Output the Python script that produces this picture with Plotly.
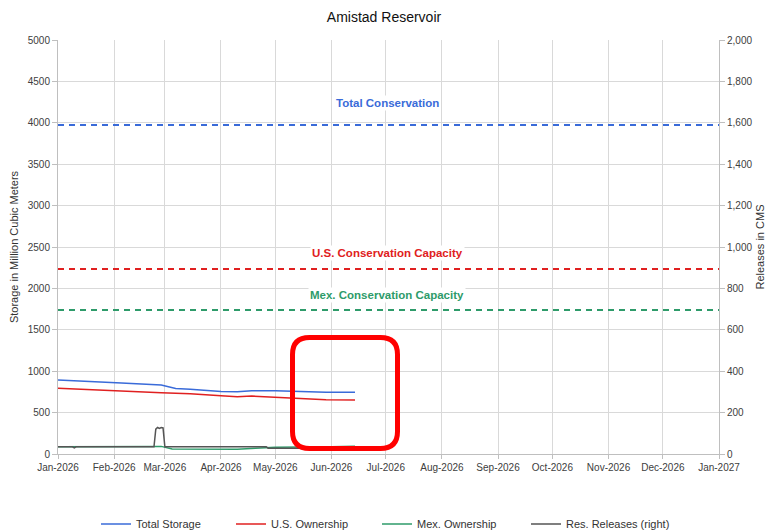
import plotly.graph_objects as go

# ---------------- data ----------------
storage_dates = ["2026-01-01", "2026-01-18", "2026-02-05", "2026-02-27", "2026-03-07",
                 "2026-03-15", "2026-04-01", "2026-04-10", "2026-04-18", "2026-05-01",
                 "2026-05-21", "2026-05-29", "2026-06-14"]
total_storage = [894, 873, 858, 833, 790, 782, 755, 752, 765, 765, 748, 746, 745]
us_ownership = [793, 775, 760, 740, 735, 728, 704, 690, 700, 688, 668, 655, 652]

mex_dates = ["2026-01-01", "2026-02-27", "2026-03-05", "2026-04-10", "2026-04-20",
             "2026-05-01", "2026-06-01", "2026-06-14"]
mex_ownership = [88, 92, 60, 58, 68, 82, 88, 95]

release_dates = ["2026-01-01", "2026-01-09", "2026-01-10", "2026-01-11", "2026-02-23",
                 "2026-02-24", "2026-02-25", "2026-02-26", "2026-02-27", "2026-02-28",
                 "2026-03-01", "2026-04-26", "2026-04-27", "2026-05-20"]
releases = [35, 35, 30, 35, 35, 120, 128, 124, 128, 126, 35, 35, 28, 28]

x_range = ["2026-01-01", "2027-01-01"]
total_conservation = 3973
us_conservation = 2234
mex_conservation = 1739

# ---------------- styling ----------------
FONT = "Arial, Liberation Sans, sans-serif"
BLUE = "#3a6bd9"
RED = "#e02020"
GREEN = "#2e9b6a"
GRAY = "#555555"
GRID = "#d9d9d9"
AXIS = "#bfbfbf"

W, H = 768, 531
L, R, T, B = 58, 49, 40, 77
pw, ph = W - L - R, H - T - B

fig = go.Figure()
fig.add_trace(go.Scatter(x=storage_dates, y=total_storage, mode="lines", legend="legend",
                         name="Total Storage", line=dict(color=BLUE, width=1.5)))
fig.add_trace(go.Scatter(x=storage_dates, y=us_ownership, mode="lines", legend="legend2",
                         name="U.S. Ownership", line=dict(color=RED, width=1.5)))
fig.add_trace(go.Scatter(x=mex_dates, y=mex_ownership, mode="lines", legend="legend3",
                         name="Mex. Ownership", line=dict(color=GREEN, width=1.5)))
fig.add_trace(go.Scatter(x=release_dates, y=releases, mode="lines", yaxis="y2",
                         legend="legend4",
                         name="Res. Releases (right)", line=dict(color=GRAY, width=1.5)))

# conservation reference lines
for val, col in [(total_conservation, BLUE), (us_conservation, RED), (mex_conservation, GREEN)]:
    fig.add_shape(type="line", xref="paper", x0=0, x1=1, yref="y", y0=val, y1=val,
                  line=dict(color=col, width=2, dash="6px,5px"), layer="above")

labels = [("Total Conservation", total_conservation + 265, BLUE),
          ("U.S. Conservation Capacity", us_conservation + 195, RED),
          ("Mex. Conservation Capacity", mex_conservation + 180, GREEN)]
for txt, yv, col in labels:
    fig.add_annotation(x=0.498, xref="paper", y=yv, yref="y", text="<b>%s</b>" % txt,
                       showarrow=False, bgcolor="white",
                       font=dict(family=FONT, size=11.5, color=col))

# red highlight box (rounded rectangle) in paper coordinates
def px(x):
    return (x - L) / pw
def py(y):
    return (H - B - y) / ph
x0, x1, y0, y1, r = 292.5, 397.5, 337.5, 448.5, 17
path = ("M {a},{b} L {c},{b} Q {e},{b} {e},{f} L {e},{g} Q {e},{h} {c},{h} "
        "L {a},{h} Q {i},{h} {i},{g} L {i},{f} Q {i},{b} {a},{b} Z").format(
    a=px(x0 + r), b=py(y0), c=px(x1 - r), e=px(x1), f=py(y0 + r), g=py(y1 - r),
    h=py(y1), i=px(x0))
fig.add_shape(type="path", path=path, xref="paper", yref="paper",
              line=dict(color="#ff0000", width=5), layer="above")

legend_style = dict(orientation="h", xanchor="left", y=-0.169, yanchor="middle",
                    itemwidth=30, bgcolor="rgba(0,0,0,0)",
                    font=dict(family=FONT, size=11, color="#333333"))
legend_text_x = [136, 271, 417, 566]

fig.update_layout(
    width=W, height=H,
    margin=dict(l=L, r=R, t=T, b=B, autoexpand=False),
    paper_bgcolor="white", plot_bgcolor="white",
    font=dict(family=FONT, size=10, color="#404040"),
    title=dict(text="Amistad Reservoir", x=0.5, xanchor="center",
               y=0.968, yanchor="middle", yref="container",
               font=dict(family=FONT, size=14, color="#111111")),
    showlegend=True,
    legend=dict(x=px(legend_text_x[0] - 40), **legend_style),
    legend2=dict(x=px(legend_text_x[1] - 40), **legend_style),
    legend3=dict(x=px(legend_text_x[2] - 40), **legend_style),
    legend4=dict(x=px(legend_text_x[3] - 40), **legend_style),
    xaxis=dict(type="date", range=x_range, dtick="M1", tick0="2026-01-01",
               tickformat="%b-%Y", showgrid=True, gridcolor=GRID, gridwidth=1,
               showline=True, linecolor=AXIS, linewidth=1, ticks="outside",
               ticklen=4, tickcolor=AXIS, zeroline=False, automargin=False,
               tickfont=dict(family=FONT, size=10, color="#404040")),
    yaxis=dict(range=[0, 5000], dtick=500, showgrid=True, gridcolor=GRID, gridwidth=1,
               showline=True, linecolor=AXIS, linewidth=1, ticks="outside", ticklen=5,
               tickcolor=AXIS, zeroline=False, tickformat="d", automargin=False,
               title=dict(text="Storage in Million Cubic Meters", standoff=6,
                          font=dict(family=FONT, size=11, color="#333333")),
               tickfont=dict(family=FONT, size=10, color="#404040")),
    yaxis2=dict(range=[0, 2000], dtick=200, overlaying="y", side="right", showgrid=False,
                showline=True, linecolor=AXIS, linewidth=1, ticks="outside", ticklen=5,
                tickcolor=AXIS, zeroline=False, tickformat=",", automargin=False,
                title=dict(text="Releases in CMS", standoff=4,
                           font=dict(family=FONT, size=11, color="#333333")),
                tickfont=dict(family=FONT, size=10, color="#404040")),
)

fig.write_html("out.html", config={"displayModeBar": False},
               post_script="document.body.style.margin='0';")
